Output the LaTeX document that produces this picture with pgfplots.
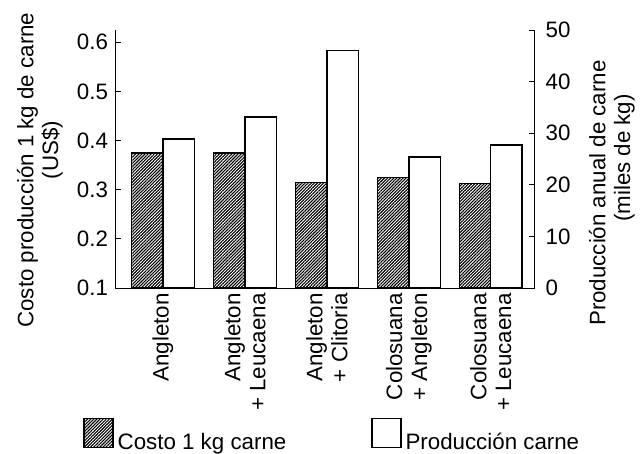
\documentclass[border=0pt]{standalone}
\usepackage{fontspec}
\setmainfont{Liberation Sans}
\usepackage{pgfplots}
\pgfplotsset{compat=1.18}
\usetikzlibrary{patterns.meta}

\pgfplotsset{
  common/.style={
    scale only axis, width=210bp, height=129bp,
    at={(0,0)}, anchor=south west,
    xmin=-0.585, xmax=4.54,
    ybar, bar width=0.384,
    font=\fontsize{11.2}{12.5}\selectfont,
    tick align=inside, major tick length=3bp,
    /pgf/number format/assume math mode=true,
    axis line style={line width=0.5bp},
    every tick/.style={line width=0.5bp, black},
  },
  boxleg/.style={legend image code/.code={
    \draw[##1, bar shift=0pt, line width=0.6bp] (0bp,-2.5bp) rectangle (14.5bp,12bp);}},
}

\begin{document}
\begin{tikzpicture}
\begin{axis}[common,
  ymin=0.1, ymax=0.625,
  axis x line*=bottom, axis y line*=left,
  xtick={0,1,2,3,4}, x tick style={draw=none},
  xticklabels={Angleton, {Angleton\\+ Leucaena}, {Angleton\\+ Clitoria},
               {Colosuana\\+ Angleton}, {Colosuana\\+ Leucaena}},
  xticklabel style={rotate=90, anchor=east, align=right, inner sep=2.5bp},
  ytick={0.1,0.2,0.3,0.4,0.5,0.6},
  yticklabel style={/pgf/number format/.cd, fixed, precision=1, fixed zerofill},
  ylabel={Costo producción 1 kg de carne\\\hspace*{20bp}(US\$)},
  ylabel style={align=center, at={(axis description cs:-0.179,0.457)}, anchor=center},
]
\addplot[draw=black, line width=0.75bp, bar shift=-0.192,
  pattern={Lines[angle=45, distance=1.1pt, line width=0.55pt]}]
  coordinates {(0,0.375) (1,0.375) (2,0.315) (3,0.325) (4,0.313)};
\end{axis}

\begin{axis}[common,
  ymin=0, ymax=50,
  axis y line*=right, axis x line=none,
  ytick={0,10,20,30,40,50},
  yticklabel style={xshift=1.8bp},
  ylabel={Producción anual de carne\\\hspace*{35bp}(miles de kg)},
  ylabel style={align=center, at={(axis description cs:1.183,0.368)}, anchor=center},
  boxleg,
  legend columns=2,
  legend style={draw=none, fill=none, inner sep=0pt, at={(axis description cs:-0.076,-0.655)},
    anchor=south west, font=\fontsize{11.2}{12.5}\selectfont,
    /tikz/every even column/.append style={column sep=40.5bp},
    cells={anchor=west}},
]
\addlegendimage{draw=none, pattern={Lines[angle=45, distance=1.1pt, line width=0.55pt]}}
\addlegendentry{Costo 1 kg carne}
\addplot[draw=black, fill=white, line width=0.75bp, bar shift=0.192]
  coordinates {(0,28.9) (1,33.1) (2,46.0) (3,25.4) (4,27.7)};
\addlegendentry{Producción carne}
\end{axis}
\pgfresetboundingbox
\path[use as bounding box] (-57.5bp,-83bp) rectangle (263bp,144bp);
\end{tikzpicture}
\end{document}
